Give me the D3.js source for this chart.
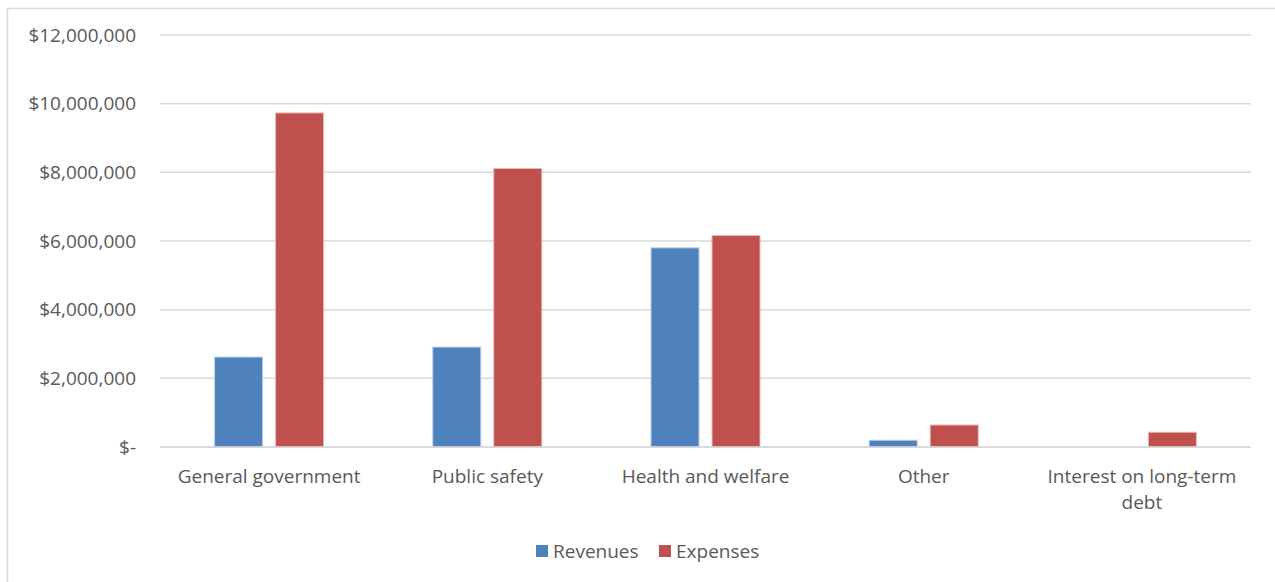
<!DOCTYPE html>
<meta charset="utf-8">
<style>
body { margin: 0; background: #fff; }
svg { display: block; }
text { font-family: "Open Sans", Lato, sans-serif; fill: #595959; }
.grid line { stroke: #d9d9d9; stroke-width: 1.5; }
.bar { stroke-width: 1; }
</style>
<svg width="1275" height="582"></svg>
<script src="https://cdn.jsdelivr.net/npm/d3@7"></script>
<script>

var categories = ["General government", "Public safety", "Health and welfare", "Other", "Interest on long-term debt"],
    seriesNames = ["Revenues", "Expenses"],
    revenues = [2620000, 2910000, 5800000, 195000, 0],
    expenses = [9730000, 8110000, 6160000, 640000, 430000],
    yTicks = [0, 2000000, 4000000, 6000000, 8000000, 10000000, 12000000];

var colors = ["#4f81bd", "#c0504d"],
    strokes = ["#b9cde5", "#e6b9b8"];

var svg = d3.select("svg");

// chart frame (only top/left visible inside the picture)
svg.append("rect")
    .attr("x", 7.5).attr("y", 8.5)
    .attr("width", 1300).attr("height", 600)
    .attr("fill", "none")
    .attr("stroke", "#d9d9d9")
    .attr("stroke-width", 1.5);

var plotLeft = 160, plotRight = 1251, plotTop = 35, plotBottom = 447;

var x = d3.scaleBand()
    .domain(categories)
    .range([plotLeft, plotRight]);

var y = d3.scaleLinear()
    .domain([0, 12000000])
    .range([plotBottom, plotTop]);

var fmt = function(d) { return d === 0 ? "$-" : "$" + d3.format(",")(d); };

var grid = svg.append("g").attr("class", "grid");
grid.selectAll("line")
    .data(yTicks)
  .enter().append("line")
    .attr("x1", plotLeft).attr("x2", plotRight)
    .attr("y1", function(d) { return y(d); })
    .attr("y2", function(d) { return y(d); });

svg.append("g").selectAll("text")
    .data(yTicks)
  .enter().append("text")
    .attr("x", 136)
    .attr("y", function(d) { return y(d); })
    .attr("dy", "0.35em")
    .attr("text-anchor", "end")
    .style("font-size", "19px")
    .text(fmt);

var barW = 48, gap = 13;
var rows = categories.map(function(c, i) { return { cat: c, vals: [revenues[i], expenses[i]] }; });

var group = svg.append("g").selectAll("g")
    .data(rows)
  .enter().append("g")
    .attr("transform", function(d) { return "translate(" + (x(d.cat) + x.bandwidth() / 2) + ",0)"; });

group.selectAll("rect")
    .data(function(d) { return d.vals.map(function(v, j) { return { v: v, j: j }; }); })
  .enter().filter(function(d) { return d.v > 0; }).append("rect")
    .attr("class", "bar")
    .attr("x", function(d) { return d.j === 0 ? -gap / 2 - barW : gap / 2; })
    .attr("y", function(d) { return y(d.v); })
    .attr("width", barW)
    .attr("height", function(d) { return y(0) - y(d.v); })
    .attr("fill", function(d) { return colors[d.j]; })
    .attr("stroke", function(d) { return strokes[d.j]; });

// redraw baseline over bars
svg.append("line")
    .attr("x1", plotLeft).attr("x2", plotRight)
    .attr("y1", y(0)).attr("y2", y(0))
    .attr("stroke", "#d9d9d9").attr("stroke-width", 1.5);

// category labels, wrapped like the original
var catLines = {
  "Interest on long-term debt": ["Interest on long-term", "debt"]
};
var labels = svg.append("g").selectAll("text")
    .data(categories)
  .enter().append("text")
    .attr("text-anchor", "middle")
    .style("font-size", "19px")
    .attr("transform", function(d) { return "translate(" + (x(d) + x.bandwidth() / 2) + ",483)"; });

labels.each(function(d) {
  var lines = catLines[d] || [d];
  d3.select(this).selectAll("tspan")
      .data(lines)
    .enter().append("tspan")
      .attr("x", 0)
      .attr("y", function(l, i) { return i * 26; })
      .text(function(l) { return l; });
});

// legend
var legend = svg.append("g").selectAll("g")
    .data(seriesNames)
  .enter().append("g")
    .attr("transform", function(d, i) { return "translate(" + (536 + i * 123) + ",545)"; });

legend.append("rect")
    .attr("width", 12).attr("height", 12)
    .attr("fill", function(d, i) { return colors[i]; });

legend.append("text")
    .attr("x", 17).attr("y", 6)
    .attr("dy", "0.35em")
    .style("font-size", "19px")
    .text(function(d) { return d; });

</script>
